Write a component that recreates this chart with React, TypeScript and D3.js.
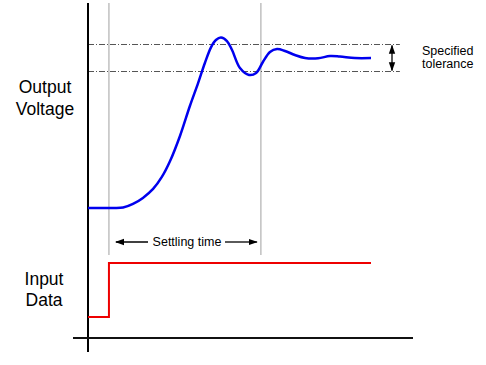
import * as d3 from 'd3'

// time (arbitrary units, 0..100) and normalised output voltage
const outTime = [0, 8.5, 12.4, 15.9, 19.4, 23.0, 26.1, 29.0, 32.5, 36.0, 38.9, 41.3, 43.5, 45.2, 47.0, 49.1, 50.9, 53.7, 56.9, 59.4, 61.8, 64.3, 66.8, 69.6, 73.1, 76.7, 81.3, 85.5, 89.0, 94.3, 100]
const outValue = [0, 0, 0.003, 0.027, 0.067, 0.127, 0.207, 0.313, 0.48, 0.68, 0.833, 0.967, 1.073, 1.12, 1.137, 1.113, 1.053, 0.933, 0.887, 0.9, 0.973, 1.04, 1.06, 1.047, 1.02, 1.0, 0.998, 1.013, 1.01, 1.0, 1.0]

// input step
const inTime = [0, 7.4, 7.4, 100]
const inValue = [0, 0, 1, 1]

const stepTime = 7.4
const settleTime = 61.1
const tolerance = 0.09
const toleranceEnd = 110.2

const FONT = '"Liberation Sans", Arial, Helvetica, sans-serif'

export default function App() {
  const x = d3.scaleLinear().domain([0, 100]).range([88, 371])
  const yOut = d3.scaleLinear().domain([0, 1]).range([208, 58])
  const yIn = d3.scaleLinear().domain([0, 1]).range([317, 263])

  const outLine = d3
    .line<number>()
    .x((_, i) => x(outTime[i]))
    .y(d => yOut(d))
    .curve(d3.curveCatmullRom.alpha(0.5))

  const inLine = d3
    .line<number>()
    .x((_, i) => x(inTime[i]))
    .y(d => yIn(d))

  const tolHi = yOut(1 + tolerance)
  const tolLo = yOut(1 - tolerance)
  const arrowX = 392
  const settleY = 242

  return (
    <svg
      width={486}
      height={365}
      style={{ position: 'absolute', left: 0, top: 0, background: '#fff' }}
      fontFamily={FONT}
    >
      <defs>
        <marker id="ah" viewBox="0 0 10 10" refX="9" refY="5" markerWidth="7" markerHeight="7" orient="auto-start-reverse">
          <path d="M0,1.5 L10,5 L0,8.5 z" fill="#000" />
        </marker>
      </defs>

      {/* reference verticals */}
      <line x1={x(stepTime)} x2={x(stepTime)} y1={3} y2={255} stroke="#a0a0a0" strokeWidth={1} />
      <line x1={x(settleTime)} x2={x(settleTime)} y1={3} y2={255} stroke="#a0a0a0" strokeWidth={1} />

      {/* tolerance band */}
      {[tolHi, tolLo].map((yy, i) => (
        <line key={i} x1={x(0)} x2={x(toleranceEnd)} y1={yy} y2={yy} stroke="#555" strokeWidth={1} strokeDasharray="6 2 1 2" />
      ))}
      <line x1={arrowX} x2={arrowX} y1={tolHi + 1} y2={tolLo - 1} stroke="#000" strokeWidth={1.3}
        markerStart="url(#ah)" markerEnd="url(#ah)" />
      <text x={422} y={55} fontSize={12.5} fill="#000">Specified</text>
      <text x={422} y={68} fontSize={12.5} fill="#000">tolerance</text>

      {/* axes */}
      <line x1={88} x2={88} y1={3} y2={352} stroke="#000" strokeWidth={2} />
      <line x1={73} x2={413} y1={338} y2={338} stroke="#111" strokeWidth={2} />

      {/* output response */}
      <path d={outLine(outValue) ?? ''} fill="none" stroke="#0000ee" strokeWidth={2.5} strokeLinejoin="round" />

      {/* input step */}
      <path d={inLine(inValue) ?? ''} fill="none" stroke="#ee0000" strokeWidth={2} />

      {/* settling time */}
      <line x1={148} x2={x(stepTime) + 7} y1={settleY} y2={settleY} stroke="#000" strokeWidth={1.3} markerEnd="url(#ah)" />
      <line x1={225} x2={x(settleTime) - 4} y1={settleY} y2={settleY} stroke="#000" strokeWidth={1.3} markerEnd="url(#ah)" />
      <text x={187} y={settleY + 4} fontSize={12.5} textAnchor="middle" fill="#000">Settling time</text>

      {/* labels */}
      <text x={45} y={93} fontSize={17.5} textAnchor="middle" fill="#000">Output</text>
      <text x={45} y={115} fontSize={17.5} textAnchor="middle" fill="#000">Voltage</text>
      <text x={44} y={285} fontSize={17.5} textAnchor="middle" fill="#000">Input</text>
      <text x={44} y={306} fontSize={17.5} textAnchor="middle" fill="#000">Data</text>
    </svg>
  )
}
